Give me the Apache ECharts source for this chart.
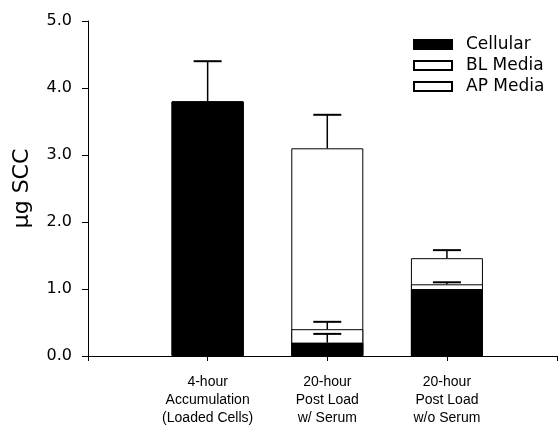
<!DOCTYPE html>
<html>
<head>
<meta charset="utf-8">
<script src="https://cdn.jsdelivr.net/npm/echarts@6/dist/echarts.min.js"></script>
<style>
  html, body { margin: 0; padding: 0; background: #fff; }
  #chart { width: 560px; height: 432px; }
</style>
</head>
<body>
<div id="chart"></div>
<script>
const categories = ['4-hour\nAccumulation\n(Loaded Cells)', '20-hour\nPost Load\nw/ Serum', '20-hour\nPost Load\nw/o Serum'];
const positions = [1, 2, 3];
const cellular = [3.8, 0.2, 1.0];
const blMedia = [0, 0.2, 0.07];
const apMedia = [0, 2.7, 0.39];
// tops of the error bars, per segment (null = none)
const cellularErr = [4.4, 0.33, null];
const blErr = [null, 0.51, 1.1];
const apErr = [null, 3.6, 1.58];
const yTicks = ['0.0', '1.0', '2.0', '3.0', '4.0', '5.0'];

const chart = echarts.init(document.getElementById('chart'), null, { renderer: 'canvas' });

// cumulative tops, the bars are drawn on top of each other (value axis, no stack)
const top1 = cellular.slice();
const top2 = cellular.map(function (v, i) { return v + blMedia[i]; });
const top3 = top2.map(function (v, i) { return v + apMedia[i]; });

// [x, base, high] for each error bar
const errData = [];
positions.forEach(function (x, i) {
  if (cellularErr[i] != null) errData.push([x, top1[i], cellularErr[i]]);
  if (blErr[i] != null) errData.push([x, top2[i], blErr[i]]);
  if (apErr[i] != null) errData.push([x, top3[i], apErr[i]]);
});

function pairs(arr) {
  return arr.map(function (v, i) { return [positions[i], v]; });
}

const font = 'Liberation Sans, Arial, sans-serif';
const wide = 'DejaVu Sans, sans-serif';

chart.setOption({
  animation: false,
  textStyle: { fontFamily: font },
  grid: { left: 88, right: 2, top: 21, bottom: 76 },
  legend: {
    orient: 'vertical',
    left: 408,
    top: 31,
    itemWidth: 38,
    itemHeight: 9,
    itemGap: 4,
    icon: 'rect',
    textStyle: { fontSize: 17, color: '#000', fontFamily: wide, padding: [0, 0, 0, 9] },
    data: ['Cellular', 'BL Media', 'AP Media']
  },
  xAxis: [{
    type: 'value',
    min: 0,
    max: 3.92,
    interval: 1,
    splitLine: { show: false },
    axisLine: { show: true, onZero: false, lineStyle: { color: '#000', width: 1 } },
    axisTick: { show: true, length: 5, inside: false, lineStyle: { color: '#000' } },
    axisLabel: {
      color: '#000',
      fontSize: 14,
      lineHeight: 18,
      margin: 17,
      formatter: function (v) {
        const i = positions.indexOf(Math.round(v));
        return (Math.abs(v - Math.round(v)) < 1e-6 && i >= 0) ? categories[i] : '';
      }
    }
  }, {
    type: 'value',
    position: 'top',
    min: 0,
    max: 3.92,
    axisLine: { show: true, lineStyle: { color: '#000', width: 1 } },
    axisTick: { show: false },
    axisLabel: { show: false },
    splitLine: { show: false }
  }],
  yAxis: {
    type: 'value',
    min: 0,
    max: 5,
    interval: 1,
    name: 'μg SCC',
    nameLocation: 'middle',
    nameGap: 55,
    nameTextStyle: { fontSize: 22, color: '#000', fontFamily: wide },
    axisLine: { show: true, lineStyle: { color: '#000', width: 1 } },
    axisTick: { show: true, length: 6, lineStyle: { color: '#000' } },
    axisLabel: {
      color: '#000',
      fontSize: 16,
      fontFamily: wide,
      margin: 16,
      formatter: function (v) { return yTicks[Math.round(v)]; }
    },
    splitLine: { show: false }
  },
  series: [{
    name: 'AP Media',
    type: 'bar',
    barWidth: 72,
    barGap: '-100%',
    data: pairs(top3),
    itemStyle: { color: '#fff', borderColor: '#000', borderWidth: 1 }
  }, {
    name: 'BL Media',
    type: 'bar',
    barWidth: 72,
    barGap: '-100%',
    data: pairs(top2),
    itemStyle: { color: '#fff', borderColor: '#000', borderWidth: 1 }
  }, {
    name: 'Cellular',
    type: 'bar',
    barWidth: 72,
    barGap: '-100%',
    data: pairs(top1),
    itemStyle: { color: '#000', borderColor: '#000', borderWidth: 1 }
  }, {
    name: 'error',
    type: 'custom',
    z: 10,
    data: errData,
    renderItem: function (params, api) {
      const base = api.coord([api.value(0), api.value(1)]);
      const top = api.coord([api.value(0), api.value(2)]);
      const half = 14;
      return {
        type: 'group',
        children: [{
          type: 'line',
          shape: { x1: base[0], y1: base[1], x2: top[0], y2: top[1] },
          style: { stroke: '#000', lineWidth: 1.5 }
        }, {
          type: 'line',
          shape: { x1: top[0] - half, y1: top[1], x2: top[0] + half, y2: top[1] },
          style: { stroke: '#000', lineWidth: 2 }
        }]
      };
    }
  }]
});
</script>
</body>
</html>
